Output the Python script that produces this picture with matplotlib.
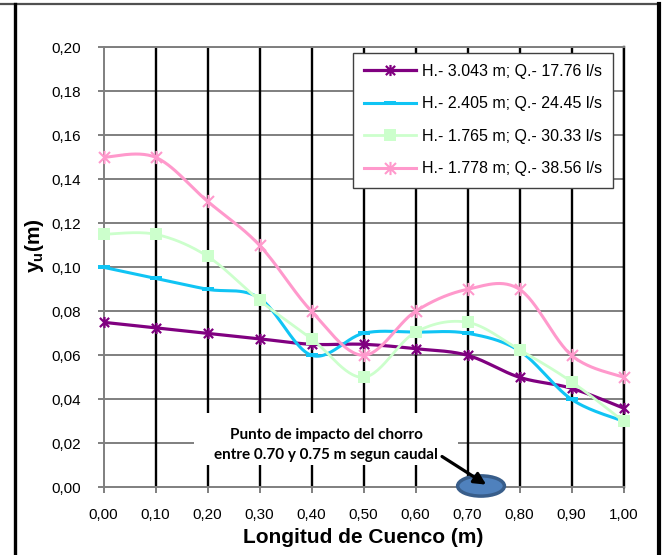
import numpy as np
import matplotlib
matplotlib.use("Agg")
import matplotlib.pyplot as plt
from matplotlib.path import Path
from matplotlib.patches import Ellipse, Rectangle
from matplotlib.lines import Line2D
from matplotlib.ticker import FuncFormatter, MultipleLocator

plt.rcParams['font.family'] = ['Liberation Sans', 'DejaVu Sans']
plt.rcParams['mathtext.fontset'] = 'custom'
plt.rcParams['mathtext.rm'] = 'Liberation Sans:bold'
plt.rcParams['mathtext.it'] = 'Liberation Sans:bold'
plt.rcParams['mathtext.bf'] = 'Liberation Sans:bold'

# Longitud del cuenco (m)
longitud = [0.00, 0.10, 0.20, 0.30, 0.40, 0.50, 0.60, 0.70, 0.80, 0.90, 1.00]

# Tirante y_u (m) para cada ensayo
yu_q1776 = [0.075, 0.0725, 0.070, 0.0675, 0.065, 0.065, 0.063, 0.060, 0.050, 0.045, 0.036]
yu_q2445 = [0.100, 0.095, 0.090, 0.086, 0.060, 0.070, 0.0705, 0.070, 0.062, 0.040, 0.030]
yu_q3033 = [0.115, 0.115, 0.105, 0.085, 0.0675, 0.050, 0.0705, 0.075, 0.0625, 0.048, 0.030]
yu_q3856 = [0.150, 0.150, 0.130, 0.110, 0.080, 0.060, 0.080, 0.090, 0.090, 0.060, 0.050]

etiquetas = ["H.- 3.043 m; Q.- 17.76 l/s",
             "H.- 2.405 m; Q.- 24.45 l/s",
             "H.- 1.765 m; Q.- 30.33 l/s",
             "H.- 1.778 m; Q.- 38.56 l/s"]

nota = ["Punto de impacto del chorro", "entre 0.70 y 0.75 m segun caudal"]
x_impacto = 0.726

# Marcadores
star = Path([(-1, -1), (1, 1), (-1, 1), (1, -1), (0, -1.2), (0, 1.2)],
            [Path.MOVETO, Path.LINETO, Path.MOVETO, Path.LINETO, Path.MOVETO, Path.LINETO])
dash = [(-1, -0.28), (1, -0.28), (1, 0.28), (-1, 0.28)]

estilos = [
    dict(color='#800080', marker=star, ms=8, mfc='none', mew=1.6, lw=2.3),
    dict(color='#10c4f4', marker=dash, ms=9, mfc='#10c4f4', mew=0, lw=2.2),
    dict(color='#ccffcc', marker='s', ms=8.5, mfc='#ccffcc', mew=0, lw=2.0),
    dict(color='#ff99cc', marker=star, ms=9.5, mfc='none', mew=1.5, lw=2.2),
]

GRIS = '#7f7f7f'


def suavizar(xs, ys, n=30):
    """Curva suavizada tipo Bezier (Catmull-Rom) que pasa por los puntos."""
    p = np.column_stack([xs, ys]).astype(float)
    m = len(p)
    seg = []
    for i in range(m - 1):
        p0 = p[max(i - 1, 0)]
        p1 = p[i]
        p2 = p[i + 1]
        p3 = p[min(i + 2, m - 1)]
        c1 = p1 + (p2 - p0) / 6.0
        c2 = p2 - (p3 - p1) / 6.0
        t = np.linspace(0, 1, n)[:, None]
        b = ((1 - t) ** 3) * p1 + 3 * ((1 - t) ** 2) * t * c1 + 3 * (1 - t) * t ** 2 * c2 + t ** 3 * p2
        seg.append(b if i == 0 else b[1:])
    c = np.vstack(seg)
    return c[:, 0], c[:, 1]


W, H = 664, 555
fig = plt.figure(figsize=(W / 100, H / 100), dpi=100)
ax = fig.add_axes([103.5 / W, 1 - 487.3 / H, 520 / W, 440 / H])

ax.set_xlim(0, 1.0)
ax.set_ylim(0, 0.20)
ax.xaxis.set_major_locator(MultipleLocator(0.1))
ax.yaxis.set_major_locator(MultipleLocator(0.02))
fmt = FuncFormatter(lambda v, p: f"{v:.2f}".replace('.', ','))
ax.xaxis.set_major_formatter(fmt)
ax.yaxis.set_major_formatter(fmt)
ax.set_axisbelow(True)

# Rejilla: horizontales grises, verticales negras
for yv in np.arange(0.02, 0.201, 0.02):
    ax.plot([0, 1], [yv, yv], color=GRIS, lw=1.4, zorder=1, solid_capstyle='butt')
for xv in longitud[1:]:
    ax.plot([xv, xv], [0, 0.2], color='black', lw=1.7, zorder=1.1, solid_capstyle='butt')

for s in ['left', 'bottom', 'top']:
    ax.spines[s].set_color(GRIS)
    ax.spines[s].set_linewidth(1.4)
ax.spines['right'].set_color('black')
ax.spines['right'].set_linewidth(1.7)

ax.tick_params(axis='x', direction='out', length=4, width=1.4, color=GRIS,
               labelsize=11, pad=11)
ax.tick_params(axis='y', direction='out', length=4, width=1.4, color=GRIS,
               labelsize=11, pad=12)

series = [yu_q1776, yu_q2445, yu_q3033, yu_q3856]
handles = []
for ys, st in zip(series, estilos):
    sx, sy = suavizar(longitud, ys)
    ax.plot(sx, sy, color=st['color'], lw=st['lw'], zorder=3, solid_capstyle='round')
    ax.plot(longitud, ys, ls='none', marker=st['marker'], ms=st['ms'],
            mfc=st['mfc'], mec=st['color'], mew=st['mew'], zorder=3, clip_on=False)
    handles.append(Line2D([], [], color=st['color'], lw=st['lw'], marker=st['marker'],
                          ms=st['ms'], mfc=st['mfc'], mec=st['color'], mew=st['mew']))

ax.set_xlabel("Longitud de Cuenco (m)", fontsize=15, fontweight='bold', labelpad=4)
fig.text(34 / W, 1 - 246 / H, r"y$_{u}$(m)", rotation=90, fontsize=15,
         fontweight='bold', ha='center', va='center')

# Leyenda
leg = ax.legend(handles, etiquetas, loc='upper left', bbox_to_anchor=(0.479, 0.988),
                borderaxespad=0, fontsize=11.5, frameon=True, fancybox=False,
                handlelength=3.3, handletextpad=0.35, labelspacing=1.1,
                borderpad=0.7, framealpha=1)
leg.get_frame().set_edgecolor('#404040')
leg.get_frame().set_linewidth(1.0)
leg.set_zorder(5)

# Nota del punto de impacto del chorro
ax.add_patch(Rectangle((0.174, 0.0101), 0.508, 0.0237, facecolor='white',
                       edgecolor='none', zorder=2))
ax.text(0.428, 0.0238, nota[0], ha='center', va='center', fontsize=11,
        fontweight='bold', family=['Lato', 'DejaVu Sans'], zorder=6)
ax.text(0.428, 0.0147, nota[1], ha='center', va='center', fontsize=11,
        fontweight='bold', family=['Lato', 'DejaVu Sans'], zorder=6)

ax.add_patch(Ellipse((x_impacto, 0.0006), 0.090, 0.0092, facecolor='#4f81bd',
                     edgecolor='#385d8a', lw=2.5, zorder=7, clip_on=False))
ax.annotate("", xy=(0.736, 0.0012), xytext=(0.651, 0.0140),
            arrowprops=dict(arrowstyle='-|>,head_length=0.7,head_width=0.35',
                            color='black', lw=2.3, shrinkA=0, shrinkB=0),
            zorder=8, annotation_clip=False)

# Marco del area del grafico
fig.add_artist(Line2D([0, 658 / W], [1 - 3.5 / H, 1 - 3.5 / H], color='#505050', lw=1.6))
fig.add_artist(Line2D([14.5 / W, 14.5 / W], [0, 1 - 3.5 / H], color='black', lw=2.4))
fig.add_artist(Line2D([659 / W, 659 / W], [0, 1 - 3.5 / H], color='black', lw=3.0))

fig.savefig("out.png", dpi=100)
